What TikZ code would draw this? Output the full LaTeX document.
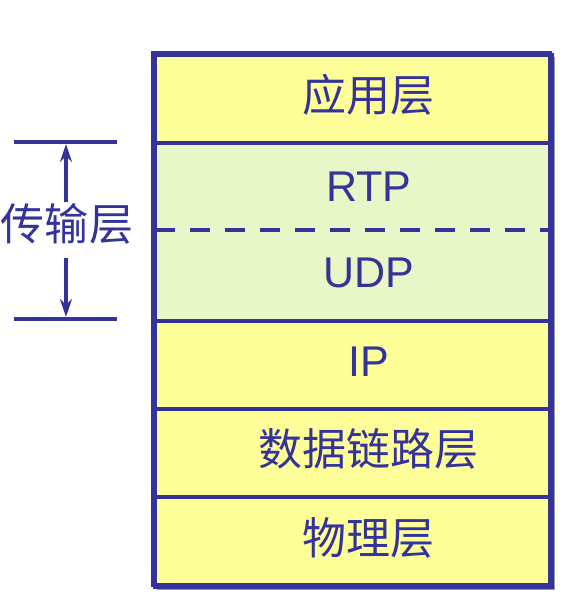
\documentclass[tikz,border=0pt]{standalone}
\usepackage{fontspec}
\setmainfont{Liberation Sans}
\newfontfamily\cjk{Noto Sans CJK SC}
\usetikzlibrary{arrows.meta}
\definecolor{bordblue}{HTML}{333399}
\definecolor{layyellow}{HTML}{FFFF99}
\definecolor{laygreen}{HTML}{E8F6C8}
\definecolor{shadowgrey}{HTML}{9A9A9A}
\begin{document}
\begin{tikzpicture}[x=1pt,y=-1pt,
  layer/.style={draw=bordblue,line width=4pt,minimum width=397pt,inner sep=0pt,anchor=north west,text=bordblue},
  cjktext/.style={font=\cjk\fontsize{44}{50}\selectfont,text=bordblue},
  latintext/.style={font=\fontsize{43}{50}\selectfont,text=bordblue},
  brk/.style={draw=bordblue,line width=4pt},
  arr/.style={draw=bordblue,line width=4pt,-{Stealth[length=18pt,width=12pt]}}]
\useasboundingbox (0,0) rectangle (567,604);
% shadow
\fill[shadowgrey] (157,57) rectangle (555,590);
% layers
\node[layer,fill=layyellow,minimum height=88pt] (app) at (153,53) {};
\node[layer,fill=laygreen,minimum height=178pt] (trans) at (153,141) {};
\node[layer,fill=layyellow,minimum height=88pt] (ip) at (153,319) {};
\node[layer,fill=layyellow,minimum height=88pt] (link) at (153,407) {};
\node[layer,fill=layyellow,minimum height=90pt] (phy) at (153,495) {};
\draw[bordblue,line width=4pt] (153,53) rectangle (550,585);
% dashed separator
\coordinate (dl) at (155,230);
\coordinate (dr) at (550,230);
\draw[bordblue,line width=4pt,dash pattern=on 20pt off 15pt] (dl) -- (dr);
% labels
\node[cjktext] (tapp) at (368,95) {应用层};
\node[latintext] (trtp) at (369,187) {RTP};
\node[latintext] (tudp) at (369,273) {UDP};
\node[latintext] (tip) at (369,362) {IP};
\node[cjktext] (tlink) at (368,449) {数据链路层};
\node[cjktext] (tphy) at (368,538) {物理层};
% bracket
\coordinate (tl) at (14,142);
\coordinate (tr) at (117,142);
\coordinate (bl) at (14,319);
\coordinate (br) at (117,319);
\coordinate (ta) at (66,144);
\coordinate (ba) at (66,317);
\draw[brk] (tl) -- (tr);
\draw[brk] (bl) -- (br);
\node[cjktext] (trans label) at (67,224) {传输层};
\draw[arr] (66,202) -- (ta);
\draw[arr] (66,258) -- (ba);
\end{tikzpicture}
\end{document}
